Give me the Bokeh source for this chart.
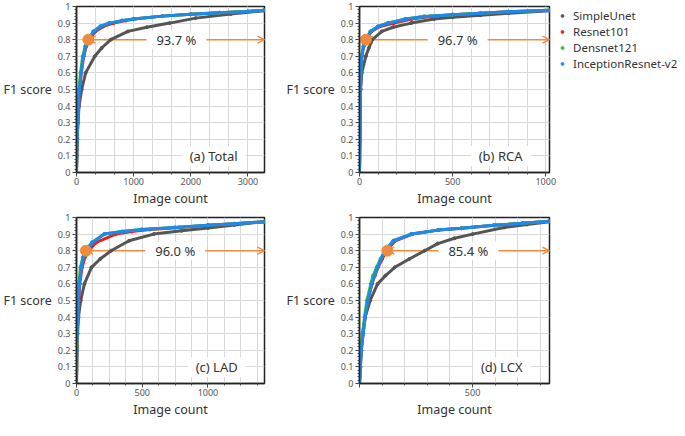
from bokeh.plotting import figure
from bokeh.models import (Range1d, SingleIntervalTicker, CustomJSTickFormatter, Label,
                          Arrow, OpenHead, Legend, LegendItem)
from bokeh.layouts import column, row
from bokeh.embed import file_html
from bokeh.resources import INLINE

FONT = "Noto Sans"
ORANGE = "#f08a3e"

model_names = ["SimpleUnet", "Resnet101", "Densnet121", "InceptionResnet-v2"]
model_colors = ["#555555", "#e3231f", "#22c322", "#1e88f0"]

panel_titles = ["(a) Total", "(b) RCA", "(c) LAD", "(d) LCX"]
panel_counts = [3290, 1020, 1430, 840]
tick_steps = [1000, 500, 500, 500]
minor_counts = [3, 5, 4, 5]
knee_counts = [207, 34, 72, 123]
knee_f1 = 0.8
pct_labels = ["93.7 %", "96.7 %", "96.0 %", "85.4 %"]

# ---- (a) Total ----
a_gray_x = [0, 5, 12, 25, 45, 90, 160, 320, 440, 600, 900, 1230, 1630, 2085, 2700, 3290]
a_gray_y = [0, .1, .2, .3, .4, .5, .6, .7, .75, .8, .85, .875, .9, .93, .955, .975]
a_ref_y = [0, .1, .2, .3, .4, .5, .6, .7, .76, .8, .85, .88, .9, .915, .925, .942, .953, .962, .97, .978]
a_red_x = [0, 5, 12, 22, 36, 52, 84, 126, 170, 220, 330, 470, 650, 860, 1000, 1500, 2000, 2500, 3000, 3290]
a_green_x = [0, 4, 10, 18, 30, 44, 70, 108, 152, 203, 296, 415, 570, 790, 1000, 1500, 2000, 2500, 3000, 3290]
a_blue_x = [0, 5, 12, 22, 35, 50, 80, 120, 160, 207, 300, 420, 575, 800, 1000, 1500, 2000, 2500, 3000, 3290]

# ---- (b) RCA ----
b_gray_x = [0, 2, 4, 6, 12, 34, 50, 69, 120, 180, 277, 400, 500, 650, 800, 1020]
b_gray_y = [0, .2, .4, .5, .6, .7, .75, .8, .85, .875, .9, .925, .935, .948, .96, .975]
b_ref_y = [0, .2, .33, .5, .6, .7, .76, .8, .85, .88, .9, .925, .94, .951, .96, .968, .977]
b_red_x = [0, 2, 3, 5, 8, 12, 23, 36, 64, 110, 185, 280, 380, 500, 650, 800, 1020]
b_green_x = [0, 2, 3, 4, 7, 11, 21, 33, 58, 98, 150, 245, 345, 500, 650, 800, 1020]
b_blue_x = [0, 2, 3, 5, 8, 12, 22, 34, 60, 100, 154, 250, 350, 500, 650, 800, 1020]

# ---- (c) LAD ----
c_gray_x = [0, 4, 8, 15, 32, 60, 114, 180, 263, 400, 587, 800, 1000, 1200, 1430]
c_gray_y = [0, .2, .3, .4, .5, .6, .7, .75, .8, .86, .9, .92, .937, .955, .975]
c_ref_y = [0, .2, .3, .4, .5, .6, .7, .76, .8, .85, .9, .915, .928, .94, .953, .962, .975]
c_red_x = [0, 2, 5, 11, 17, 25, 42, 64, 90, 150, 300, 420, 560, 780, 1000, 1200, 1430]
c_green_x = [0, 2, 4, 8, 12, 18, 30, 48, 70, 118, 210, 345, 495, 745, 1000, 1200, 1430]
c_blue_x = [0, 2, 5, 10, 15, 22, 35, 52, 72, 120, 214, 350, 500, 750, 1000, 1200, 1430]

# ---- (d) LCX ----
d_gray_x = [0, 3, 7, 13, 25, 47, 80, 115, 156, 220, 288, 346, 420, 500, 639, 740, 840]
d_gray_y = [0, .1, .2, .3, .4, .5, .6, .65, .7, .75, .8, .843, .875, .9, .94, .958, .975]
d_ref_y = [0, .1, .2, .3, .4, .5, .6, .65, .7, .75, .8, .86, .9, .924, .935, .953, .965, .978]
d_red_x = [0, 4, 8, 16, 25, 37, 55, 68, 82, 100, 120, 158, 235, 350, 450, 595, 720, 840]
d_green_x = [0, 3, 7, 14, 22, 33, 50, 60, 76, 93, 112, 150, 228, 346, 450, 595, 720, 840]
d_blue_x = [0, 4, 8, 16, 25, 37, 54, 66, 80, 95, 113, 150, 229, 346, 450, 595, 720, 840]

panel_curves = [
    [(a_gray_x, a_gray_y), (a_red_x, a_ref_y), (a_green_x, a_ref_y), (a_blue_x, a_ref_y)],
    [(b_gray_x, b_gray_y), (b_red_x, b_ref_y), (b_green_x, b_ref_y), (b_blue_x, b_ref_y)],
    [(c_gray_x, c_gray_y), (c_red_x, c_ref_y), (c_green_x, c_ref_y), (c_blue_x, c_ref_y)],
    [(d_gray_x, d_gray_y), (d_red_x, d_ref_y), (d_green_x, d_ref_y), (d_blue_x, d_ref_y)],
]

LEFT = 72
LEG_W = 128
BOTTOM = 37
FH = 166


def make_panel(i, frame_w, right_border, top_border, with_legend=False):
    xmax = panel_counts[i]
    p = figure(frame_width=frame_w, frame_height=FH,
               x_range=Range1d(0, xmax), y_range=Range1d(0, 1),
               output_backend="svg", toolbar_location=None,
               min_border_left=LEFT, min_border_right=right_border,
               min_border_top=top_border, min_border_bottom=BOTTOM,
               background_fill_color="white", border_fill_color="white")
    p.outline_line_color = "#222222"
    p.outline_line_width = 1.5

    xt = SingleIntervalTicker(interval=tick_steps[i], num_minor_ticks=minor_counts[i])
    yt = SingleIntervalTicker(interval=0.1, num_minor_ticks=5)
    p.xaxis.ticker = xt
    p.yaxis.ticker = yt
    p.xgrid.ticker = xt
    p.ygrid.ticker = yt
    if i == 3:
        p.xaxis.formatter = CustomJSTickFormatter(code="return tick == 0 ? '' : String(tick)")
    p.yaxis.formatter = CustomJSTickFormatter(code="return String(Math.round(tick*10)/10)")

    p.xgrid.grid_line_color = "#d8d8d8"
    p.xgrid.minor_grid_line_color = "#d8d8d8"
    p.ygrid.grid_line_color = "#d8d8d8"

    for ax in (p.xaxis[0], p.yaxis[0]):
        ax.axis_line_color = "#222222"
        ax.axis_line_width = 1.5
        ax.major_tick_line_color = "#444444"
        ax.minor_tick_line_color = "#444444"
        ax.major_tick_in = 0
        ax.major_tick_out = 4
        ax.minor_tick_in = 0
        ax.minor_tick_out = 2
        ax.major_label_text_font = FONT
        ax.major_label_text_font_size = "9px"
        ax.major_label_text_color = "#555555"
        ax.major_label_standoff = 2
        ax.axis_label_text_font = FONT
        ax.axis_label_text_font_size = "12.5px"
        ax.axis_label_text_font_style = "normal"
        ax.axis_label_text_color = "#333333"
    p.xaxis.axis_label = "Image count"
    p.xaxis.major_label_standoff = 1
    p.xaxis.axis_label_standoff = 2
    p.yaxis.axis_label = "F1 score"
    p.yaxis.axis_label_orientation = "horizontal"
    p.yaxis.axis_label_standoff = 3

    knee = knee_counts[i]
    # arrow and boxed labels sit under the curves
    p.add_layout(Arrow(start=OpenHead(size=7, line_color=ORANGE, line_width=1.5),
                       end=OpenHead(size=7, line_color=ORANGE, line_width=1.5),
                       x_start=knee, y_start=knee_f1, x_end=xmax, y_end=knee_f1,
                       line_color=ORANGE, line_width=1.5, level="underlay"))
    p.add_layout(Label(x=(knee + xmax) / 2, y=knee_f1, text=pct_labels[i],
                       text_align="center", text_baseline="middle",
                       text_font=FONT, text_font_size="13px", text_color="#333333",
                       background_fill_color="white", level="underlay",
                       padding=dict(top=0, bottom=0, left=10, right=10)))
    p.add_layout(Label(x=0.9 * xmax, y=0.1, text=panel_titles[i],
                       text_align="right", text_baseline="middle",
                       text_font=FONT, text_font_size="13px", text_color="#333333",
                       background_fill_color="white", level="underlay",
                       padding=dict(top=1, bottom=1, left=8, right=8)))

    dots = []
    for (xs, ys), color in zip(panel_curves[i], model_colors):
        p.line(xs, ys, line_color=color, line_width=3)
        dots.append(p.scatter(xs, ys, size=3, color=color))

    p.scatter([knee], [knee_f1], size=11, color=ORANGE)

    if with_legend:
        items = [LegendItem(label=n, renderers=[r]) for n, r in zip(model_names, dots)]
        leg = Legend(items=items, location="top_left", glyph_width=22, glyph_height=7,
                     label_height=12, label_standoff=0, spacing=1, padding=2, margin=0,
                     border_line_alpha=0, background_fill_alpha=0,
                     label_text_font=FONT, label_text_font_size="11.5px",
                     label_text_color="#333333")
        p.add_layout(leg, "right")
    return p


pa = make_panel(0, 188, 19, 6)
pb = make_panel(1, 190, 0, 6, with_legend=True)
pc = make_panel(2, 188, 19, 8)
pd_ = make_panel(3, 190, LEG_W, 8)

layout = column(row(pa, pb), row(pc, pd_))

open("out.html", "w").write(file_html(layout, INLINE))
